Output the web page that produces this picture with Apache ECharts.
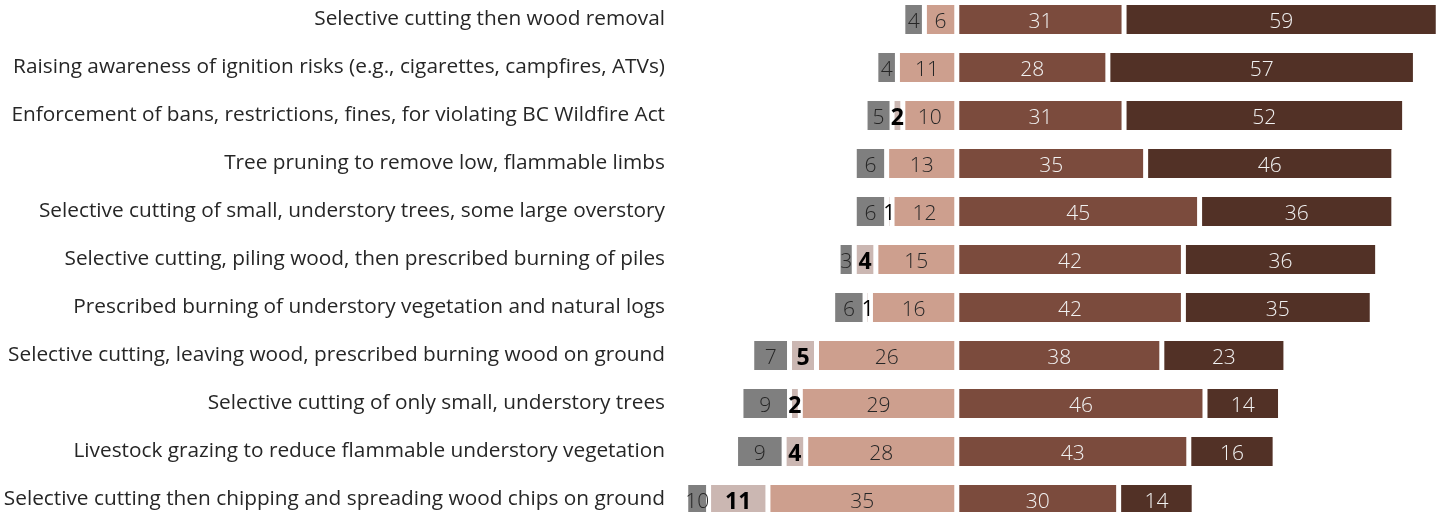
<!DOCTYPE html>
<html>
<head>
<meta charset="utf-8">
<script src="https://cdn.jsdelivr.net/npm/echarts@6/dist/echarts.min.js"></script>
<style>
html,body{margin:0;padding:0;background:#fff;}
#chart{width:1437px;height:512px;}
</style>
</head>
<body>
<div id="chart"></div>
<script>
const categories = [
  "Selective cutting then wood removal",
  "Raising awareness of ignition risks (e.g., cigarettes, campfires, ATVs)",
  "Enforcement of bans, restrictions, fines, for violating BC Wildfire Act",
  "Tree pruning to remove low, flammable limbs",
  "Selective cutting of small, understory trees, some large overstory",
  "Selective cutting, piling wood, then prescribed burning of piles",
  "Prescribed burning of understory vegetation and natural logs",
  "Selective cutting, leaving wood, prescribed burning wood on ground",
  "Selective cutting of only small, understory trees",
  "Livestock grazing to reduce flammable understory vegetation",
  "Selective cutting then chipping and spreading wood chips on ground"
];
// left side (shown as negative)
const grayValues      = [4, 4, 5, 6, 6, 3, 6, 7, 9, 9, 10];
const lightGrayValues = [0, 0, 2, 0, 1, 4, 1, 5, 2, 4, 11];
const lightPinkValues = [6, 11, 10, 13, 12, 15, 16, 26, 29, 28, 35];
// right side
const brownValues     = [31, 28, 31, 35, 45, 42, 42, 38, 46, 43, 30];
const darkBrownValues = [59, 57, 52, 46, 36, 36, 35, 23, 14, 16, 14];

const FONT = "'Open Sans', 'Noto Sans', sans-serif";
const chart = echarts.init(document.getElementById('chart'), null, {renderer:'canvas'});

function fmt(p){ const v = Math.abs(p.value); return v === 0 ? '' : String(v); }
function fmtLightGray(p){
  const v = Math.abs(p.value);
  if (v === 0) return '';
  return v === 1 ? '{r|' + v + '}' : '{b|' + v + '}';
}
function mk(name, values, color, neg, labelStyle){
  return {
    name, type:'bar', stack:'total', barWidth:34,
    data: values.map(v => neg ? -v : v),
    itemStyle:{color, borderColor:'#ffffff', borderWidth:2.5},
    label: Object.assign({show:true, position:'inside', formatter: fmt, fontFamily: FONT, offset:[0,2.5]}, labelStyle),
    emphasis:{disabled:true},
    animation:false
  };
}

chart.setOption({
  animation:false,
  grid:{left:687, right:0, top:-4.5, height:528, containLabel:false, outerBoundsMode:'none'},
  xAxis:{type:'value', min:-50, max:89, show:false, splitLine:{show:false}},
  yAxis:{type:'category', data:categories, inverse:true,
    axisLine:{show:false}, axisTick:{show:false}, splitLine:{show:false},
    axisLabel:{margin:22, color:'#262626', fontSize:20.8, fontFamily:FONT, fontWeight:400, padding:[10,0,0,0]}},
  series:[
    mk('Light pink', lightPinkValues, '#cd9f8e', true, {color:'#262626', fontSize:21, fontWeight:300}),
    mk('Light gray', lightGrayValues, '#cbb7b2', true, {formatter: fmtLightGray,
      rich:{
        b:{color:'#000000', fontSize:23, fontWeight:'bold', fontFamily:FONT},
        r:{color:'#000000', fontSize:21, fontWeight:400, fontFamily:FONT}
      }}),
    mk('Gray', grayValues, '#7f7f7f', true, {color:'#262626', fontSize:21, fontWeight:300}),
    mk('Brown', brownValues, '#7b4b3d', false, {color:'#f2f2f2', fontSize:21, fontWeight:300}),
    mk('Dark brown', darkBrownValues, '#523126', false, {color:'#f2f2f2', fontSize:21, fontWeight:300})
  ]
});
</script>
</body>
</html>
